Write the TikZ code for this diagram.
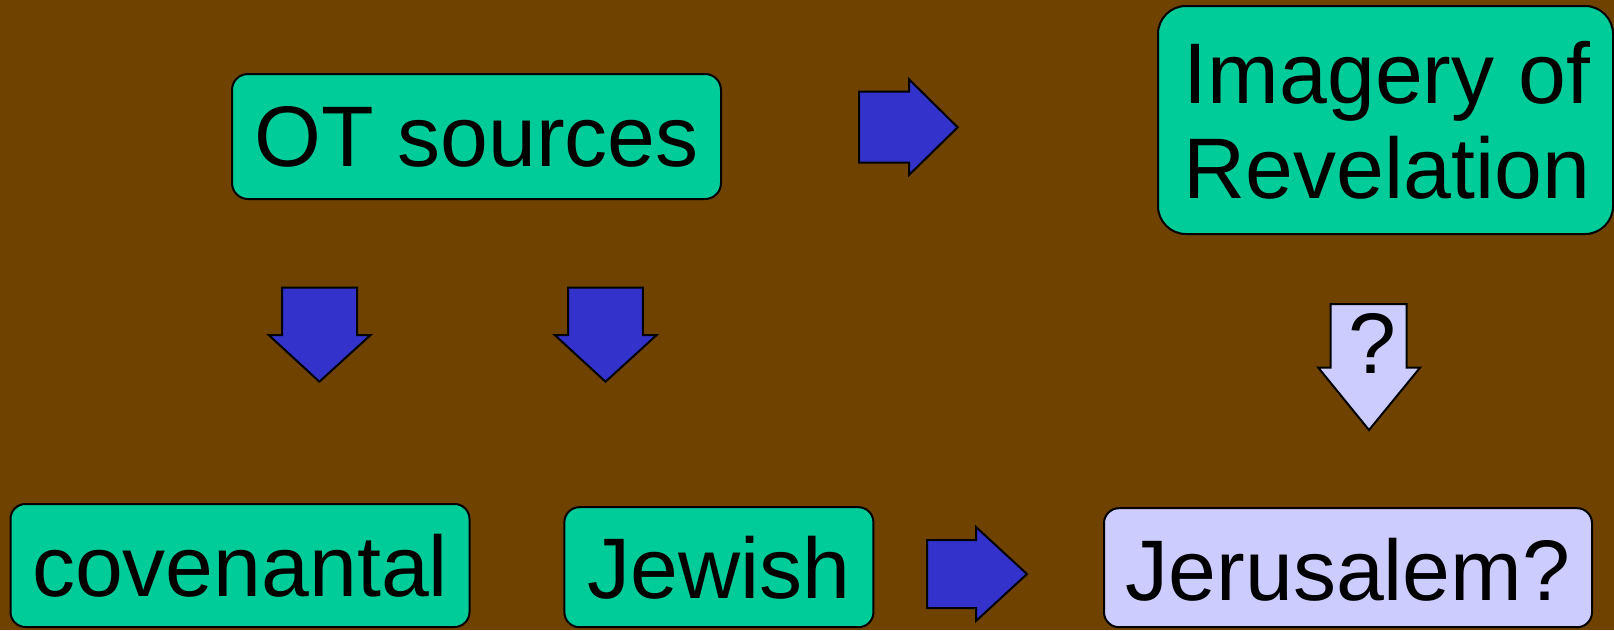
\documentclass[tikz,border=0pt]{standalone}
\usepackage{fontspec}
\setmainfont{Liberation Sans}
\definecolor{bgbrown}{RGB}{111,66,0}
\definecolor{tealbox}{RGB}{0,204,153}
\definecolor{lavbox}{RGB}{204,204,255}
\definecolor{arrowblue}{RGB}{51,51,204}
\tikzset{
  bigfont/.style={font=\fontsize{86}{95}\selectfont},
  roundbox/.style={draw=black, line width=2pt, rounded corners=16pt, inner sep=0pt, text depth=0pt, bigfont},
  tealnode/.style={roundbox, fill=tealbox},
  lavnode/.style={roundbox, fill=lavbox},
  blockarrow/.style={draw=black, line width=2pt, fill=arrowblue, line join=miter},
  qarrow/.style={blockarrow, fill=lavbox},
  plaintext/.style={inner sep=0pt, bigfont}
}
\begin{document}
\begin{tikzpicture}[x=1pt,y=-1pt]
\fill[bgbrown] (0,0) rectangle (1614,630);
\useasboundingbox (0,0) rectangle (1614,630);

% boxes
\node[tealnode, minimum width=489pt, minimum height=125pt, text height=60.4pt] (ot) at (476.5,136.5) {OT sources};
\node[tealnode, rounded corners=28pt, minimum width=455pt, minimum height=228pt] (img) at (1385.5,120) {};
\node[plaintext, anchor=base] (img1) at (1387,103.3) {Imagery of};
\node[plaintext, anchor=base] (img2) at (1387,198.3) {Revelation};
\node[tealnode, rounded corners=15pt, minimum width=459pt, minimum height=123pt, text height=62.4pt] (cov) at (240,565.5) {covenantal};
\node[tealnode, rounded corners=15pt, minimum width=309pt, minimum height=120pt, text height=61.6pt] (jew) at (718.9,567.2) {Jewish};
\node[lavnode, rounded corners=15pt, minimum width=488pt, minimum height=119pt, text height=64.6pt] (jer) at (1348,567.7) {Jerusalem?};

% block arrows
\draw[blockarrow] (859,91.7) -- (909,91.7) -- (909,79.3) -- (957.7,127.3) -- (909,175) -- (909,162.7) -- (859,162.7) -- cycle;
\draw[blockarrow] (282.1,287.7) -- (357.2,287.7) -- (357.2,335) -- (370.6,335) -- (319.4,381.7) -- (268.7,335) -- (282.1,335) -- cycle;
\draw[blockarrow] (568.2,287.7) -- (642.8,287.7) -- (642.8,335) -- (656.7,335) -- (605.5,381.7) -- (554.7,335) -- (568.2,335) -- cycle;
\draw[blockarrow] (927,540) -- (976,540) -- (976,527) -- (1027,574) -- (976,621) -- (976,608) -- (927,608) -- cycle;
\draw[qarrow] (1330.7,304) -- (1406.7,304) -- (1406.7,367.7) -- (1420,367.7) -- (1369,430) -- (1318.3,367.7) -- (1330.7,367.7) -- cycle;
\node[plaintext, anchor=base] (q) at (1372,373) {?};
\end{tikzpicture}
\end{document}
